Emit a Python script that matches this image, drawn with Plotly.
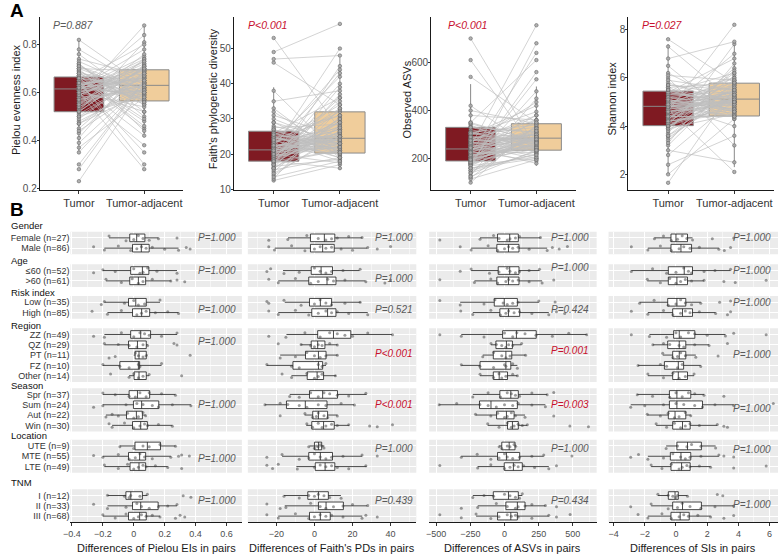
import plotly.graph_objects as go

W, H = 780, 558
FONT = "Liberation Sans, Arial, Helvetica, sans-serif"
GREY_TXT = "#4D4D4D"
P_GREY = "#5A5A5A"
P_RED = "#C8102E"
TUMOR_FILL = "#7F1A22"
ADJ_FILL = "#F0CD9B"

# ======================= Panel A data =======================
A_CATS = ["Tumor", "Tumor-adjacent"]
A_YTITLES = ["Pielou evenness index", "Faith's phylogenetic diversity", "Observed ASVs", "Shannon index"]
A_PVALS = ["P=0.887", "P<0.001", "P<0.001", "P=0.027"]
A_YTICKS = [[0.2, 0.4, 0.6, 0.8], [10, 20, 30, 40, 50], [200, 400, 600], [2, 4, 6, 8]]

PIELOU_TUMOR = [0.62, 0.55, 0.71, 0.48, 0.66, 0.60, 0.82, 0.52, 0.64, 0.45, 0.58, 0.67, 0.39, 0.61, 0.70,
                0.53, 0.63, 0.30, 0.57, 0.65, 0.74, 0.50, 0.62, 0.68, 0.23, 0.59, 0.66, 0.54, 0.78, 0.61,
                0.47, 0.64, 0.56, 0.69, 0.35, 0.62, 0.72, 0.51, 0.60, 0.66, 0.43, 0.63, 0.58, 0.67, 0.28,
                0.61, 0.76, 0.52, 0.65, 0.57, 0.70, 0.49, 0.62, 0.64, 0.41, 0.60, 0.73, 0.55, 0.68, 0.63,
                0.58, 0.63, 0.69, 0.54, 0.66, 0.61, 0.47, 0.72, 0.60, 0.56, 0.65, 0.52, 0.70, 0.62, 0.44,
                0.67, 0.59, 0.64, 0.37, 0.61, 0.68, 0.55, 0.63, 0.71, 0.50, 0.60, 0.66, 0.57, 0.64, 0.62]
PIELOU_ADJ = [0.66, 0.70, 0.58, 0.62, 0.45, 0.72, 0.63, 0.81, 0.57, 0.68, 0.88, 0.60, 0.64, 0.52, 0.69,
              0.74, 0.42, 0.65, 0.61, 0.30, 0.67, 0.59, 0.78, 0.55, 0.63, 0.71, 0.48, 0.66, 0.62, 0.84,
              0.60, 0.35, 0.70, 0.57, 0.64, 0.75, 0.50, 0.67, 0.28, 0.62, 0.69, 0.58, 0.73, 0.46, 0.65,
              0.60, 0.56, 0.71, 0.80, 0.63, 0.44, 0.68, 0.59, 0.66, 0.72, 0.54, 0.61, 0.76, 0.64, 0.69,
              0.61, 0.68, 0.55, 0.70, 0.59, 0.74, 0.64, 0.52, 0.67, 0.63, 0.57, 0.71, 0.60, 0.66, 0.62,
              0.49, 0.69, 0.65, 0.58, 0.73, 0.56, 0.64, 0.70, 0.61, 0.67, 0.38, 0.63, 0.68, 0.60, 0.65]
PIELOU_BOX = [[0.35, 0.52, 0.615, 0.665, 0.82], [0.42, 0.565, 0.63, 0.695, 0.88]]

FAITH_TUMOR = [21, 18.5, 25, 14, 22.5, 19, 26, 17, 28, 20, 12.5, 23, 31, 18, 21.5, 16, 24, 35, 19.5, 22,
               27, 13, 20.5, 53, 18, 23.5, 26.5, 15, 21, 38, 19, 24.5, 17.5, 22, 49, 20, 25.5, 16.5, 21.5, 30,
               18.5, 23, 27.5, 14.5, 20, 46, 19.5, 22.5, 26, 17, 21, 33, 18, 24, 47, 20.5, 22, 29, 16, 25,
               19, 22, 17.5, 24, 20.5, 15.5, 23, 27, 18, 21, 25, 16, 20, 29, 22, 18.5, 24.5, 13.5, 21.5, 26,
               19.5, 23.5, 17, 22.5, 32, 20, 18, 25.5, 21, 24]
FAITH_ADJ = [24, 30, 19, 26, 22, 35, 20.5, 45, 23, 28, 17, 32, 25, 21, 50, 26.5, 18, 38, 23.5, 29,
             20, 33, 24.5, 27, 16, 42, 22, 30.5, 25.5, 19.5, 36, 23, 27.5, 21.5, 57, 24, 31, 18.5, 26, 22.5,
             40, 20, 28.5, 25, 17.5, 34, 23, 44, 21, 29.5, 26, 19, 32.5, 24, 48, 22, 27, 20.5, 37, 25,
             23, 27, 21, 31, 25, 19, 34, 22, 29, 24.5, 20, 28, 43, 23.5, 26, 30, 21.5, 18, 25, 36,
             22, 27.5, 39, 24, 20.5, 29, 26.5, 23, 33, 19]
FAITH_BOX = [[12.2, 18.0, 21.2, 26.5, 39.0], [15.5, 20.3, 24.5, 32.0, 47.5]]

ASV_TUMOR = [240, 190, 310, 150, 260, 200, 330, 180, 280, 120, 230, 350, 210, 270, 100, 195, 300, 160, 250, 700,
             220, 290, 175, 340, 205, 380, 245, 140, 265, 185, 320, 610, 230, 170, 290, 210, 255, 130, 195, 400,
             240, 275, 160, 310, 225, 540, 200, 285, 180, 345, 235, 115, 265, 215, 300, 190, 420, 250, 175, 330,
             220, 260, 180, 300, 240, 150, 280, 210, 330, 190, 250, 170, 310, 230, 140, 270, 200, 290, 160, 240,
             350, 215, 265, 185, 305, 225, 125, 275, 245, 195]
ASV_ADJ = [285, 330, 240, 300, 210, 360, 270, 480, 250, 320, 190, 610, 280, 230, 340, 260, 420, 200, 300, 245,
           640, 275, 330, 220, 290, 360, 180, 310, 250, 530, 270, 230, 380, 290, 260, 310, 200, 450, 280, 345,
           240, 300, 680, 265, 225, 350, 290, 240, 560, 275, 320, 195, 300, 255, 395, 280, 235, 755, 270, 310,
           270, 300, 250, 330, 285, 220, 360, 260, 310, 240, 290, 205, 340, 275, 230, 380, 255, 300, 215, 325,
           270, 245, 435, 290, 260, 315, 235, 280, 350, 265]
ASV_BOX = [[100, 190, 240, 330, 510], [170, 235, 285, 345, 500]]

SHANNON_TUMOR = [4.8, 4.0, 5.5, 3.2, 4.9, 4.3, 5.4, 3.7, 6.2, 4.6, 2.0, 5.0, 4.1, 5.8, 3.5, 4.7, 5.3, 4.2, 7.6, 4.9,
                 3.9, 5.1, 4.4, 6.0, 2.8, 4.8, 5.4, 4.0, 5.2, 1.65, 4.6, 5.6, 3.6, 4.9, 4.3, 7.3, 5.0, 4.1, 5.3, 3.0,
                 4.7, 5.5, 4.2, 6.5, 4.8, 3.8, 5.1, 4.5, 5.4, 2.4, 4.9, 4.0, 5.7, 4.4, 6.8, 4.6, 5.2, 3.4, 4.8, 5.0,
                 4.5, 5.0, 4.2, 5.6, 4.8, 3.9, 5.3, 4.6, 5.9, 4.3, 5.1, 3.6, 4.9, 5.4, 4.1, 4.7, 5.2, 4.4, 6.1, 4.0,
                 5.0, 4.8, 3.3, 5.5, 4.6, 4.9, 4.2, 5.7, 4.4, 5.1]
SHANNON_ADJ = [5.1, 5.6, 4.6, 5.9, 4.4, 6.2, 5.0, 7.4, 4.8, 5.3, 4.3, 5.7, 6.4, 4.9, 5.4, 2.1, 5.2, 4.5, 5.8, 5.0,
               6.1, 4.7, 5.5, 3.2, 5.1, 4.4, 6.8, 5.3, 4.9, 5.6, 8.2, 4.6, 5.2, 4.0, 5.9, 5.0, 4.5, 6.3, 5.4, 2.5,
               5.1, 4.8, 5.7, 4.3, 7.0, 5.2, 4.6, 5.5, 5.0, 3.6, 6.0, 4.9, 5.3, 4.4, 7.5, 5.1, 4.7, 5.8, 5.0, 5.4,
               5.0, 5.4, 4.7, 5.8, 5.2, 4.5, 6.0, 4.9, 5.5, 5.1, 4.6, 5.7, 5.3, 6.2, 4.8, 5.0, 5.6, 4.4, 5.9, 5.2,
               4.7, 5.4, 6.6, 5.1, 4.9, 5.3, 4.6, 5.5, 5.0, 5.8]
SHANNON_BOX = [[2.0, 4.02, 4.82, 5.45, 7.4], [2.3, 4.42, 5.12, 5.78, 7.5]]

A_SERIES = [(PIELOU_TUMOR, PIELOU_ADJ, PIELOU_BOX), (FAITH_TUMOR, FAITH_ADJ, FAITH_BOX),
            (ASV_TUMOR, ASV_ADJ, ASV_BOX), (SHANNON_TUMOR, SHANNON_ADJ, SHANNON_BOX)]

# ======================= Panel B data =======================
B_GROUPS = ["Gender", "Age", "Risk index", "Region", "Season", "Location", "TNM"]
B_ROWS = [["Female (n=27)", "Male (n=86)"],
          ["≤60 (n=52)", ">60 (n=61)"],
          ["Low (n=35)", "High (n=85)"],
          ["ZZ (n=49)", "QZ (n=29)", "PT (n=11)", "FZ (n=10)", "Other (n=14)"],
          ["Spr (n=37)", "Sum (n=24)", "Aut (n=22)", "Win (n=30)"],
          ["UTE (n=9)", "MTE (n=55)", "LTE (n=49)"],
          ["I (n=12)", "II (n=33)", "III (n=68)"]]
B_XTITLES = ["Differences of Pielou EIs in pairs", "Differences of Faith's PDs in pairs",
             "Differences of ASVs in pairs", "Differences of SIs in pairs"]
B_PVALS = [["P=1.000"] * 7,
           ["P=1.000", "P=1.000", "P=0.521", "P<0.001", "P<0.001", "P=1.000", "P=0.439"],
           ["P=1.000", "P=1.000", "P=0.424", "P=0.001", "P=0.003", "P=1.000", "P=0.434"],
           ["P=1.000"] * 7]

# box stats per row: [lower whisker, q1, median, q3, upper whisker]
PIELOU_DIFF_STATS = [
    [-0.16, -0.026, 0.019, 0.072, 0.16], [-0.19, -0.008, 0.049, 0.10, 0.29],
    [-0.20, -0.02, 0.056, 0.098, 0.28], [-0.18, -0.026, 0.03, 0.077, 0.24],
    [-0.19, -0.034, 0.013, 0.081, 0.17], [-0.17, -0.008, 0.051, 0.103, 0.29],
    [-0.19, -0.02, 0.045, 0.109, 0.28], [-0.19, -0.034, 0.024, 0.081, 0.09], [0.0, 0.009, 0.034, 0.081, 0.09],
    [-0.20, -0.09, 0.03, 0.038, 0.18], [-0.03, 0.002, 0.034, 0.081, 0.10],
    [-0.20, -0.03, 0.024, 0.103, 0.27], [-0.20, -0.002, 0.051, 0.162, 0.37],
    [-0.18, -0.047, 0.017, 0.056, 0.077], [-0.14, -0.008, 0.045, 0.088, 0.25],
    [-0.09, 0.008, 0.088, 0.173, 0.27], [-0.20, -0.034, 0.038, 0.077, 0.24], [-0.19, -0.024, 0.034, 0.077, 0.22],
    [-0.17, -0.051, -0.019, 0.056, 0.088], [-0.17, -0.008, 0.045, 0.158, 0.28], [-0.20, -0.034, 0.038, 0.081, 0.17]]
FAITH_DIFF_STATS = [
    [-13.9, -2.1, 5.2, 10.7, 25.1], [-20.8, -2.1, 4.3, 10.4, 27.7],
    [-16.5, -1.7, 3.5, 9.5, 23.7], [-19.0, -3.0, 6.6, 11.3, 26.8],
    [-15.6, -2.6, 3.1, 9.0, 24.3], [-19.0, -1.4, 6.9, 11.3, 28.0],
    [-14.7, 1.7, 10.0, 19.1, 40.7], [-7.3, -1.7, 1.7, 5.5, 12.1], [-18.0, -4.7, 2.1, 6.1, 12.1],
    [-25.1, -11.3, 2.1, 4.3, 6.1], [-12.1, -3.8, 1.4, 4.8, 11.3],
    [-13.0, -2.6, 4.3, 12.1, 27.4], [-26.0, -14.7, -4.8, 6.6, 20.8],
    [-5.2, -0.9, 2.1, 6.9, 12.1], [-4.3, -1.4, 4.8, 10.4, 18.2],
    [-2.6, 0.0, 2.1, 3.8, 5.2], [-17.0, -3.0, 3.1, 9.5, 25.1], [-9.5, 0.4, 5.6, 10.7, 27.4],
    [-16.0, -3.5, 2.1, 7.3, 13.9], [-15.6, 2.1, 6.1, 15.2, 27.7], [-19.0, -2.6, 3.1, 8.3, 25.1]]
ASV_DIFF_STATS = [
    [-179, -51, 38, 101, 263], [-244, -56, 29, 106, 312],
    [-244, -46, 38, 106, 256], [-220, -56, 29, 106, 275],
    [-324, -75, -2, 94, 251], [-232, -34, 29, 111, 324],
    [-316, -14, 87, 232, 601], [-99, -63, 14, 58, 125], [-159, -82, 10, 53, 154],
    [-316, -179, 10, 46, 94], [-179, -82, -39, 22, 94],
    [-232, -34, 46, 101, 312], [-478, -183, -99, 94, 299],
    [-212, -58, 14, 70, 150], [-123, 22, 58, 101, 167],
    [-39, -20, 34, 77, 82], [-316, -51, 14, 111, 287], [-196, -2, 65, 130, 324],
    [-232, -82, 29, 101, 130], [-196, 10, 94, 150, 299], [-208, -51, 46, 94, 324]]
SI_DIFF_STATS = [
    [-1.38, -0.32, 0.0, 0.74, 1.06], [-1.8, -0.32, 0.32, 1.0, 2.75],
    [-2.86, -0.49, 0.53, 1.06, 3.5], [-1.84, -0.49, 0.06, 0.74, 1.8],
    [-2.33, -0.53, 0.06, 0.63, 1.59], [-1.8, -0.21, 0.42, 1.06, 2.54],
    [-1.7, -0.15, 0.21, 1.21, 3.17], [-1.48, -0.53, 0.21, 0.63, 2.12], [-0.85, -0.21, 0.21, 0.63, 1.27],
    [-2.43, -0.74, 0.15, 0.49, 1.59], [-1.8, -0.21, 0.15, 0.74, 1.16],
    [-2.48, -0.42, 0.06, 0.95, 1.8], [-2.9, -0.42, 0.06, 1.7, 3.7],
    [-1.84, -0.49, -0.06, 0.63, 0.95], [-1.27, -0.21, 0.42, 0.91, 2.65],
    [-0.63, 0.06, 0.74, 1.63, 2.54], [-1.8, -0.36, 0.32, 0.95, 2.75], [-1.59, -0.32, 0.36, 0.91, 2.22],
    [-1.16, -0.49, -0.06, 0.15, 0.74], [-1.59, -0.21, 0.42, 1.63, 3.7], [-1.8, -0.32, 0.27, 0.85, 2.22]]

# individual paired differences per row
PIELOU_DIFF_PTS = [
    [-0.16, -0.05, 0.0, 0.03, 0.06, 0.1, 0.16, 0.28],
    [-0.26, -0.19, -0.1, -0.02, 0.02, 0.05, 0.08, 0.12, 0.2, 0.29, 0.34, 0.365],
    [-0.26, -0.2, -0.12, 0.0, 0.04, 0.06, 0.09, 0.15, 0.28],
    [-0.18, -0.08, -0.01, 0.03, 0.06, 0.12, 0.24, 0.28, 0.33],
    [-0.21, -0.19, -0.06, 0.0, 0.03, 0.07, 0.17],
    [-0.27, -0.17, -0.08, 0.02, 0.05, 0.08, 0.14, 0.22, 0.29],
    [-0.26, -0.19, -0.08, 0.0, 0.04, 0.07, 0.1, 0.18, 0.28],
    [-0.19, -0.1, -0.03, 0.02, 0.06, 0.09, 0.26, 0.28],
    [-0.16, -0.12, 0.01, 0.03, 0.06, 0.08, 0.365],
    [-0.2, -0.09, -0.03, 0.03, 0.04, 0.18],
    [-0.15, -0.03, 0.0, 0.03, 0.06, 0.1, 0.31],
    [-0.2, -0.12, -0.03, 0.01, 0.04, 0.08, 0.1, 0.18, 0.27],
    [-0.26, -0.2, -0.05, 0.02, 0.06, 0.12, 0.16, 0.25, 0.37],
    [-0.18, -0.14, -0.1, -0.04, 0.0, 0.03, 0.06, 0.077],
    [-0.16, -0.14, -0.06, 0.0, 0.04, 0.07, 0.09, 0.16, 0.25],
    [-0.09, 0.0, 0.06, 0.1, 0.17, 0.27],
    [-0.26, -0.2, -0.1, -0.03, 0.01, 0.04, 0.07, 0.12, 0.24, 0.29, 0.31, 0.36],
    [-0.19, -0.1, -0.04, 0.0, 0.03, 0.06, 0.08, 0.14, 0.22, 0.31],
    [-0.17, -0.06, -0.03, -0.02, 0.04, 0.088, 0.32, 0.37],
    [-0.26, -0.17, -0.05, 0.02, 0.05, 0.1, 0.16, 0.22, 0.28],
    [-0.2, -0.12, -0.05, 0.0, 0.03, 0.05, 0.08, 0.12, 0.17, 0.27, 0.3, 0.33]]
FAITH_DIFF_PTS = [
    [-24, -14, -4, 2, 6, 9, 12, 18, 25],
    [-24, -21, -12, -5, 0, 3, 6, 9, 14, 20, 28, 33, 40],
    [-25, -23, -16, -8, 0, 3, 6, 9, 15, 24],
    [-24, -19, -10, -2, 2, 7, 10, 16, 27, 37, 40],
    [-25, -24, -16, -7, 0, 3, 6, 9, 16, 24],
    [-24, -19, -10, -3, 2, 6, 9, 12, 18, 28],
    [-24, -15, -5, 3, 8, 12, 16, 20, 28, 41],
    [-19, -7, -2, 0, 2, 4, 8, 12],
    [-18, -10, -4, 0, 3, 6, 12],
    [-25, -12, -8, 2, 4, 6],
    [-17, -12, -4, 0, 2, 4, 11],
    [-13, -8, -2, 2, 5, 8, 12, 18, 27],
    [-26, -18, -14, -8, -4, 2, 6, 14, 21],
    [-18, -5, -1, 1, 2, 5, 7, 12],
    [-4, -1, 2, 4, 6, 9, 12, 18, 29, 33, 41],
    [-3, 0, 1, 2, 3, 4, 5],
    [-25, -17, -8, -3, 0, 3, 6, 9, 15, 25, 33],
    [-25, -22, -19, -9, 0, 3, 6, 9, 12, 18, 27],
    [-16, -8, -3, 0, 2, 5, 8, 14],
    [-25, -18, -15, -2, 3, 6, 10, 15, 20, 28],
    [-25, -19, -10, -3, 0, 3, 6, 9, 15, 25, 27, 33]]
ASV_DIFF_PTS = [
    [-473, -179, -80, -40, 20, 40, 80, 110, 263],
    [-324, -244, -120, -50, 0, 30, 60, 100, 180, 312, 350, 400, 460],
    [-324, -244, -110, -40, 20, 40, 80, 110, 180, 256],
    [-473, -220, -100, -50, 10, 30, 60, 100, 180, 275, 360],
    [-473, -324, -150, -70, -10, 20, 60, 100, 251, 370],
    [-320, -232, -100, -30, 10, 30, 70, 110, 200, 324, 380, 440],
    [-473, -316, -150, 0, 60, 90, 150, 230, 350, 470, 601],
    [-99, -60, -20, 10, 30, 60, 125],
    [-159, -80, -20, 10, 40, 154],
    [-316, -180, -80, 0, 10, 60, 94],
    [-179, -80, -40, -20, 10, 60, 94],
    [-232, -120, -30, 20, 50, 80, 110, 200, 312, 360],
    [-478, -350, -180, -120, -60, 0, 60, 100, 200, 299],
    [-212, -100, -50, 0, 20, 50, 80, 150, 360],
    [-123, -40, 20, 50, 70, 100, 130, 167, 478, 614],
    [-39, -20, 20, 40, 70, 82],
    [-316, -200, -100, -40, 0, 20, 60, 110, 200, 287, 493],
    [-473, -196, -100, 0, 40, 70, 100, 140, 220, 324, 380],
    [-232, -150, -80, 0, 40, 80, 110, 130],
    [-316, -196, -60, 20, 80, 100, 150, 200, 299, 380],
    [-473, -316, -208, -100, -40, 20, 50, 80, 100, 200, 324, 380, 480]]
SI_DIFF_PTS = [
    [-1.38, -0.8, -0.3, 0.1, 0.4, 0.7, 1.06, 2.33, 3.7],
    [-2.86, -1.8, -1.0, -0.3, 0.2, 0.5, 0.9, 1.5, 2.75, 3.1, 3.5],
    [-2.86, -1.5, -0.6, 0.0, 0.5, 0.8, 1.0, 1.8, 2.5, 3.5],
    [-1.84, -1.0, -0.4, 0.0, 0.3, 0.6, 1.0, 1.8, 3.07, 3.8, 5.78],
    [-2.33, -1.4, -0.5, 0.0, 0.3, 0.6, 1.0, 1.59, 2.8, 3.5],
    [-2.86, -1.8, -0.8, -0.2, 0.3, 0.6, 0.9, 1.5, 2.54, 3.3, 3.5],
    [-2.86, -1.7, -0.6, 0.0, 0.3, 0.8, 1.2, 2.0, 3.17, 3.7, 5.78],
    [-1.48, -0.8, -0.4, 0.2, 0.5, 1.2, 2.12, 3.3],
    [-0.85, -0.2, 0.1, 0.3, 0.6, 1.27, 2.7],
    [-2.43, -1.0, -0.6, 0.1, 0.4, 1.59],
    [-1.8, -0.8, -0.2, 0.2, 0.6, 1.16],
    [-2.48, -1.5, -0.4, 0.0, 0.4, 0.8, 1.2, 1.8, 3.07],
    [-2.9, -2.0, -0.8, 0.0, 0.5, 1.2, 1.7, 2.5, 3.7, 6.24],
    [-1.84, -1.0, -0.5, -0.1, 0.2, 0.6, 0.95],
    [-1.27, -0.6, -0.1, 0.3, 0.6, 0.9, 1.5, 2.65, 3.07, 3.3],
    [-0.63, 0.1, 0.7, 1.0, 1.6, 2.54],
    [-2.9, -2.4, -1.8, -0.8, -0.2, 0.3, 0.6, 0.9, 1.6, 2.75, 3.07, 3.7],
    [-1.59, -0.9, -0.3, 0.2, 0.4, 0.7, 0.9, 1.5, 2.22, 3.7, 5.78],
    [-1.16, -0.5, -0.2, 0.0, 0.1, 0.74, 2.65, 3.0],
    [-2.9, -1.59, -0.5, 0.1, 0.4, 0.9, 1.6, 2.5, 3.7],
    [-2.43, -1.8, -0.9, -0.3, 0.2, 0.5, 0.8, 1.4, 2.22, 3.07, 3.7]]

B_STATS = [PIELOU_DIFF_STATS, FAITH_DIFF_STATS, ASV_DIFF_STATS, SI_DIFF_STATS]
B_PTS = [PIELOU_DIFF_PTS, FAITH_DIFF_PTS, ASV_DIFF_PTS, SI_DIFF_PTS]

# ======================= layout (pixel geometry / styles) =======================
A_XPIX = [(33, 178), (229, 376), (428, 574), (627, 774)]
A_YPIX = (17, 192)
A_YRANGE = [[0.192, 0.916], [9.72, 59.0], [68, 790], [1.34, 8.53]]
A_YTITLE_X = [9, 208, 404, 611]
A_PX = [0.08, 0.08, 0.10, 0.08]

B_XPIX = [(64, 237), (243, 413), (426, 595), (607, 778)]
B_XRANGE = [[-0.41, 0.70], [-35, 53.5], [-551, 674], [-4.32, 6.54]]
B_DTICK = [0.2, 20, 250, 2]
B_ROW0 = [240, 273, 305, 337.5, 398, 450, 500]
B_HEAD_Y = [228, 263, 295, 328, 389, 439, 487]
STEP = 10.4
B_PROW = [[0, 0, 0.75, 0.65, 1, 1.2, 0.5],
          [0, 0.8, 0.75, 1.8, 1, 0.2, 0.5],
          [0, -0.3, 0.75, 1.6, 1, 0.2, 0.45],
          [0, 0, 0, 1.9, 1.35, 0.3, 0.85]]
B_PXPOS = [0.975, 0.99, 0.965, 0.97]


def ids(n):
    return ("x" if n == 1 else f"x{n}"), ("y" if n == 1 else f"y{n}")


def keys(n):
    return ("xaxis" if n == 1 else f"xaxis{n}"), ("yaxis" if n == 1 else f"yaxis{n}")


def is_sig(p):
    if p.startswith("P<"):
        return True
    return float(p.split("=")[1]) < 0.05


fig = go.Figure()
layout = {}
annotations = []
shapes = []

# ------------------ Panel A ------------------
for k in range(4):
    n = k + 1
    xid, yid = ids(n)
    xk, yk = keys(n)
    tum, adj, box = A_SERIES[k]
    for j, col in enumerate([TUMOR_FILL, ADJ_FILL]):
        lw, q1, med, q3, uw = box[j]
        fig.add_trace(go.Box(x=[j], q1=[q1], median=[med], q3=[q3], lowerfence=[lw], upperfence=[uw],
                             orientation="v", width=0.76, fillcolor=col,
                             line=dict(color="#8A8A8A", width=1), whiskerwidth=0, boxpoints=False,
                             xaxis=xid, yaxis=yid, showlegend=False, hoverinfo="skip"))
    lx, ly = [], []
    for t, a in zip(tum, adj):
        lx += [0, 1, None]
        ly += [t, a, None]
    fig.add_trace(go.Scatter(x=lx, y=ly, mode="lines", line=dict(color="rgba(190,190,190,0.85)", width=0.8),
                             xaxis=xid, yaxis=yid, showlegend=False, hoverinfo="skip"))
    fig.add_trace(go.Scatter(x=[0] * len(tum) + [1] * len(adj), y=list(tum) + list(adj), mode="markers",
                             marker=dict(size=3.5, color="rgba(170,170,170,0.9)",
                                         line=dict(color="#666666", width=0.6)),
                             xaxis=xid, yaxis=yid, showlegend=False, hoverinfo="skip"))
    x0, x1 = A_XPIX[k]
    layout[xk] = dict(domain=[x0 / W, x1 / W], anchor=yid, range=[-0.6, 1.6], tickvals=[0, 1],
                      ticktext=A_CATS, showline=True, linecolor="#1A1A1A", linewidth=1, ticks="outside",
                      ticklen=3, tickcolor="#333333", tickfont=dict(size=11, color="#333333"),
                      showgrid=False, zeroline=False, fixedrange=True)
    layout[yk] = dict(domain=[1 - A_YPIX[1] / H, 1 - A_YPIX[0] / H], anchor=xid, range=A_YRANGE[k],
                      tickvals=A_YTICKS[k], showline=True, linecolor="#1A1A1A", linewidth=1,
                      ticks="outside", ticklen=2, tickcolor="#333333", ticklabelstandoff=-2,
                      tickfont=dict(size=10, color=GREY_TXT), showgrid=False, zeroline=False,
                      fixedrange=True)
    annotations.append(dict(text=A_YTITLES[k], x=A_YTITLE_X[k] / W, y=1 - 100 / H, xref="paper",
                            yref="paper", textangle=-90, showarrow=False, xanchor="center",
                            yanchor="middle", font=dict(size=11, color="#1A1A1A")))
    pv = A_PVALS[k]
    annotations.append(dict(text=f"<i>{pv}</i>", x=A_PX[k], y=1 - (25 - A_YPIX[0]) / (A_YPIX[1] - A_YPIX[0]),
                            xref=f"{xid} domain", yref=f"{yid} domain", showarrow=False,
                            xanchor="left", yanchor="middle",
                            font=dict(size=10.5, color=P_RED if is_sig(pv) else P_GREY)))

# ------------------ Panel B ------------------
for c in range(4):
    stats = B_STATS[c]
    pts = B_PTS[c]
    ri = 0
    for g in range(7):
        n = 5 + c * 7 + g
        xid, yid = ids(n)
        xk, yk = keys(n)
        nrows = len(B_ROWS[g])
        rows = list(range(ri, ri + nrows))
        ypos = [-i for i in range(nrows)]
        fig.add_trace(go.Box(y=ypos,
                             lowerfence=[stats[r][0] for r in rows], q1=[stats[r][1] for r in rows],
                             median=[stats[r][2] for r in rows], q3=[stats[r][3] for r in rows],
                             upperfence=[stats[r][4] for r in rows],
                             orientation="h", width=0.74, fillcolor="white",
                             line=dict(color="#1A1A1A", width=0.8), whiskerwidth=0, boxpoints=False,
                             xaxis=xid, yaxis=yid, showlegend=False, hoverinfo="skip"))
        pxv, pyv = [], []
        for i, r in enumerate(rows):
            pxv += pts[r]
            pyv += [-i] * len(pts[r])
        fig.add_trace(go.Box(x=pxv, y=pyv, orientation="h", boxpoints="all", jitter=0.8, pointpos=0,
                             width=0.74, fillcolor="rgba(0,0,0,0)",
                             line=dict(color="rgba(0,0,0,0)", width=0),
                             marker=dict(size=3, color="rgba(60,60,60,0.5)"),
                             xaxis=xid, yaxis=yid, showlegend=False, hoverinfo="skip"))
        ri += nrows
        top = B_ROW0[g] - 0.6 * STEP
        bot = B_ROW0[g] + (nrows - 1 + 0.6) * STEP
        x0, x1 = B_XPIX[c]
        bottom = g == 6
        layout[xk] = dict(domain=[x0 / W, x1 / W], anchor=yid, range=B_XRANGE[c], tickmode="linear",
                          tick0=0, dtick=B_DTICK[c], showgrid=True, gridcolor="white", gridwidth=1,
                          minor=dict(dtick=B_DTICK[c] / 2, tick0=0, showgrid=True, gridcolor="white",
                                     gridwidth=0.5, ticks=""),
                          zeroline=False, showticklabels=bottom, ticks="outside" if bottom else "",
                          ticklen=3, tickcolor="#333333", showline=bottom, linecolor="#1A1A1A",
                          linewidth=1, tickfont=dict(size=9, color=GREY_TXT), fixedrange=True)
        layout[yk] = dict(domain=[1 - bot / H, 1 - top / H], anchor=xid, range=[-(nrows - 1) - 0.6, 0.6],
                          tickmode="array", tickvals=ypos, ticktext=B_ROWS[g], showticklabels=(c == 0),
                          ticks="", showgrid=True, gridcolor="white", gridwidth=1, zeroline=False,
                          tickfont=dict(size=9, color="#333333"), fixedrange=True)
        shapes.append(dict(type="rect", xref=f"{xid} domain", yref=f"{yid} domain", x0=0, x1=1, y0=0, y1=1,
                           fillcolor="#EBEBEB", line=dict(width=0), layer="below"))
        pv = B_PVALS[c][g]
        annotations.append(dict(text=f"<i>{pv}</i>", x=B_PXPOS[c], y=-B_PROW[c][g], xref=f"{xid} domain",
                                yref=yid, showarrow=False, xanchor="right", yanchor="middle",
                                font=dict(size=10, color=P_RED if is_sig(pv) else P_GREY)))
        if c == 0:
            annotations.append(dict(text=B_GROUPS[g], x=2 / W, y=1 - B_HEAD_Y[g] / H, xref="paper",
                                    yref="paper", showarrow=False, xanchor="left", yanchor="middle",
                                    font=dict(size=9.5, color="#111111")))
    x0, x1 = B_XPIX[c]
    annotations.append(dict(text=B_XTITLES[c], x=(x0 + x1) / 2 / W, y=1 - 553 / H, xref="paper",
                            yref="paper", showarrow=False, xanchor="center", yanchor="middle",
                            font=dict(size=11, color="#1A1A1A")))

annotations.append(dict(text="<b>A</b>", x=1 / W, y=1 - 11 / H, xref="paper", yref="paper", showarrow=False,
                        xanchor="left", yanchor="middle", font=dict(size=19, color="#000000")))
annotations.append(dict(text="<b>B</b>", x=1 / W, y=1 - 211 / H, xref="paper", yref="paper", showarrow=False,
                        xanchor="left", yanchor="middle", font=dict(size=19, color="#000000")))

fig.update_layout(width=W, height=H, margin=dict(l=0, r=0, t=0, b=0), paper_bgcolor="white",
                  plot_bgcolor="white", font=dict(family=FONT, size=10, color="#1A1A1A"),
                  showlegend=False, boxmode="overlay", annotations=annotations, shapes=shapes, **layout)

fig.write_html("out.html", config={"displayModeBar": False, "staticPlot": True},
               post_script="document.body.style.margin='0px';document.body.style.overflow='hidden';")
